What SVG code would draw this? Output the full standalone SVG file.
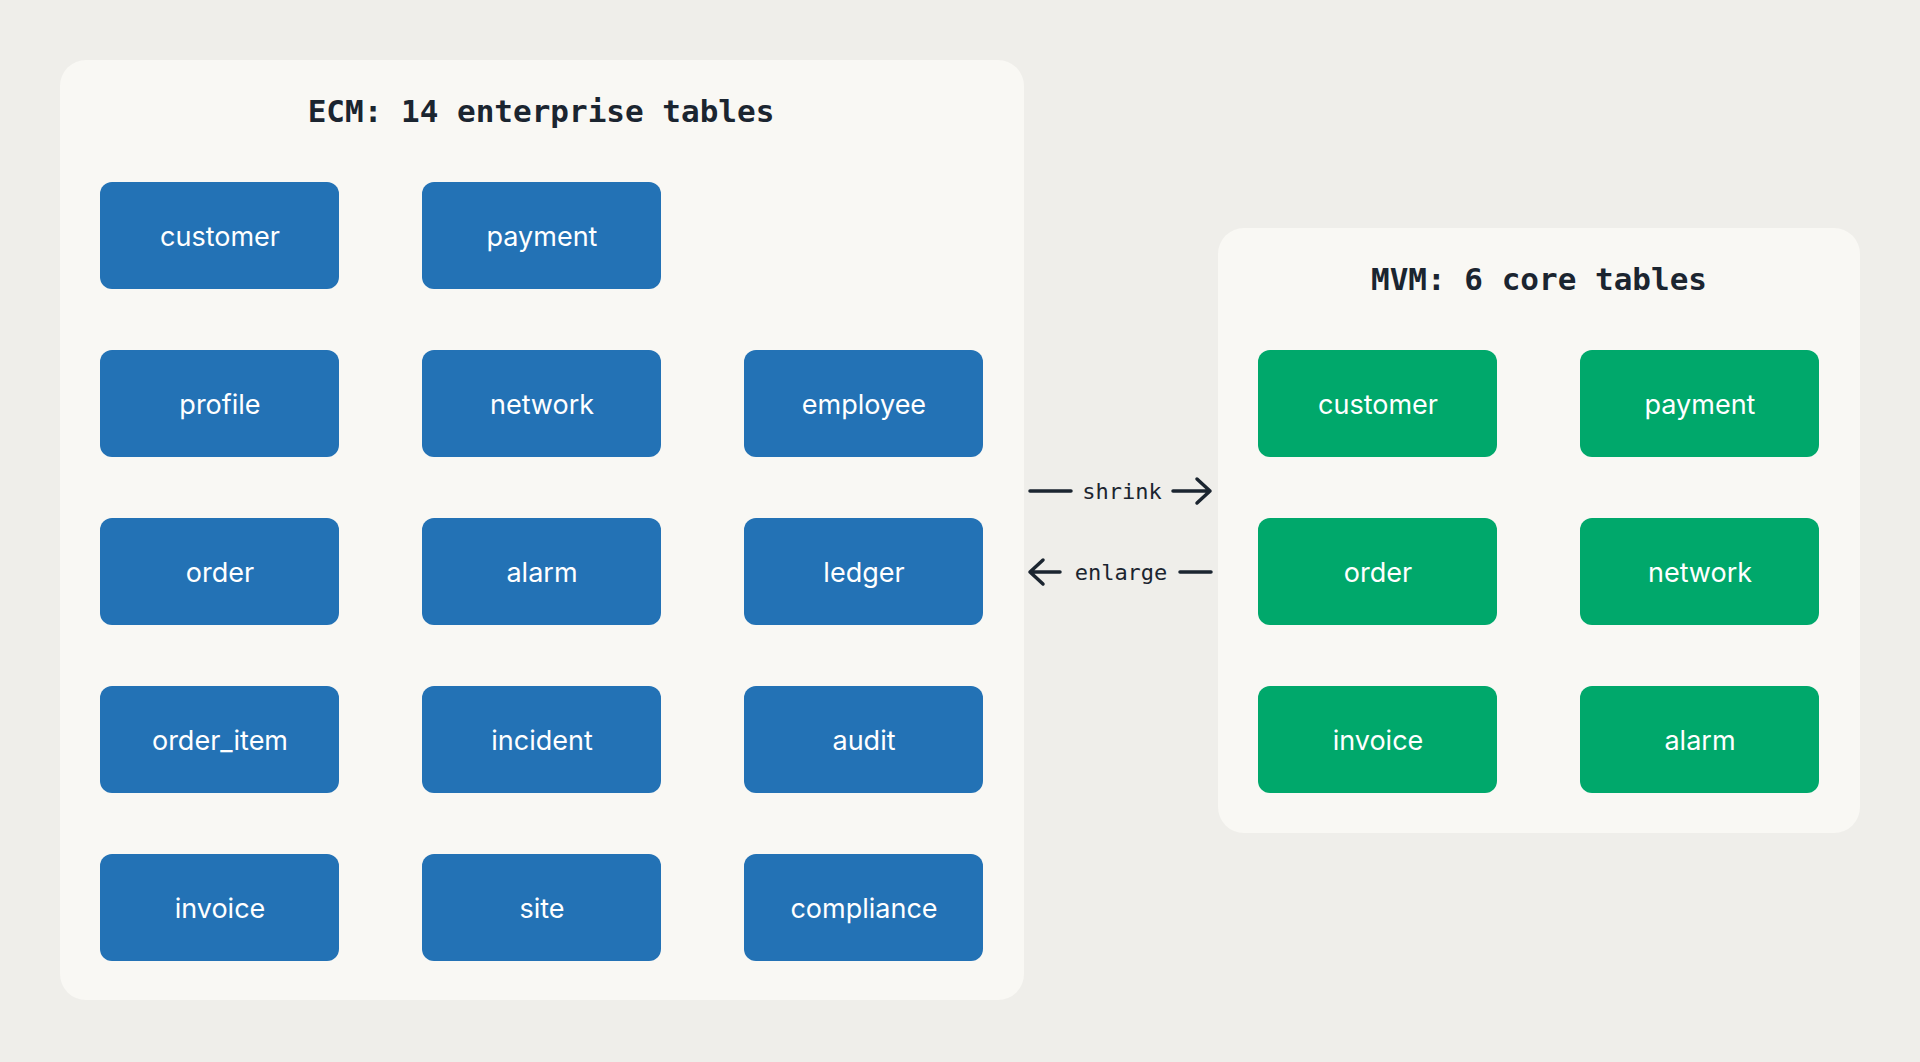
<svg xmlns="http://www.w3.org/2000/svg" width="1920" height="1062" viewBox="0 0 1920 1062">
<style>
.panel{fill:#F9F8F4}
.b{fill:#2372B5}
.g{fill:#00A86B}
.t{font-family:"Inter","Liberation Sans",sans-serif;font-size:27px;fill:#fff;text-anchor:middle;dominant-baseline:central}
.h{font-family:"DejaVu Sans Mono","Liberation Mono",monospace;font-size:31px;font-weight:bold;fill:#1B2530;text-anchor:middle;dominant-baseline:central}
.l{font-family:"DejaVu Sans Mono","Liberation Mono",monospace;font-size:22px;fill:#1B2530;text-anchor:middle;dominant-baseline:central}
.c{stroke:#1B2530;stroke-width:3.5;fill:none;stroke-linecap:round;stroke-linejoin:round}
</style>
<rect width="1920" height="1062" fill="#EFEEEA"/>
<g id="ecm"><rect class="panel" x="60" y="60" width="964" height="940" rx="26"/><text class="h" x="541" y="111">ECM: 14 enterprise tables</text></g>
<g id="mvm"><rect class="panel" x="1218" y="228" width="642" height="605" rx="26"/><text class="h" x="1539" y="279">MVM: 6 core tables</text></g>
<g id="e-customer"><rect class="b" x="100" y="182" width="239" height="107" rx="12"/><text class="t" x="220" y="236">customer</text></g>
<g id="e-payment"><rect class="b" x="422" y="182" width="239" height="107" rx="12"/><text class="t" x="542" y="236">payment</text></g>
<g id="e-profile"><rect class="b" x="100" y="350" width="239" height="107" rx="12"/><text class="t" x="220" y="404">profile</text></g>
<g id="e-network"><rect class="b" x="422" y="350" width="239" height="107" rx="12"/><text class="t" x="542" y="404">network</text></g>
<g id="e-employee"><rect class="b" x="744" y="350" width="239" height="107" rx="12"/><text class="t" x="864" y="404">employee</text></g>
<g id="e-order"><rect class="b" x="100" y="518" width="239" height="107" rx="12"/><text class="t" x="220" y="572">order</text></g>
<g id="e-alarm"><rect class="b" x="422" y="518" width="239" height="107" rx="12"/><text class="t" x="542" y="572">alarm</text></g>
<g id="e-ledger"><rect class="b" x="744" y="518" width="239" height="107" rx="12"/><text class="t" x="864" y="572">ledger</text></g>
<g id="e-order_item"><rect class="b" x="100" y="686" width="239" height="107" rx="12"/><text class="t" x="220" y="740">order_item</text></g>
<g id="e-incident"><rect class="b" x="422" y="686" width="239" height="107" rx="12"/><text class="t" x="542" y="740">incident</text></g>
<g id="e-audit"><rect class="b" x="744" y="686" width="239" height="107" rx="12"/><text class="t" x="864" y="740">audit</text></g>
<g id="e-invoice"><rect class="b" x="100" y="854" width="239" height="107" rx="12"/><text class="t" x="220" y="908">invoice</text></g>
<g id="e-site"><rect class="b" x="422" y="854" width="239" height="107" rx="12"/><text class="t" x="542" y="908">site</text></g>
<g id="e-compliance"><rect class="b" x="744" y="854" width="239" height="107" rx="12"/><text class="t" x="864" y="908">compliance</text></g>
<g id="m-customer"><rect class="g" x="1258" y="350" width="239" height="107" rx="12"/><text class="t" x="1378" y="404">customer</text></g>
<g id="m-payment"><rect class="g" x="1580" y="350" width="239" height="107" rx="12"/><text class="t" x="1700" y="404">payment</text></g>
<g id="m-order"><rect class="g" x="1258" y="518" width="239" height="107" rx="12"/><text class="t" x="1378" y="572">order</text></g>
<g id="m-network"><rect class="g" x="1580" y="518" width="239" height="107" rx="12"/><text class="t" x="1700" y="572">network</text></g>
<g id="m-invoice"><rect class="g" x="1258" y="686" width="239" height="107" rx="12"/><text class="t" x="1378" y="740">invoice</text></g>
<g id="m-alarm"><rect class="g" x="1580" y="686" width="239" height="107" rx="12"/><text class="t" x="1700" y="740">alarm</text></g>
<g id="connectors">
<path class="c" d="M1030 491 H1071 M1173 491 H1210 M1197 479 L1210 491 L1197 503"/>
<text class="l" x="1122" y="491">shrink</text>
<path class="c" d="M1030 572 H1060 M1043 560 L1030 572 L1043 584 M1180 572 H1211"/>
<text class="l" x="1121" y="572">enlarge</text>
</g>
</svg>
